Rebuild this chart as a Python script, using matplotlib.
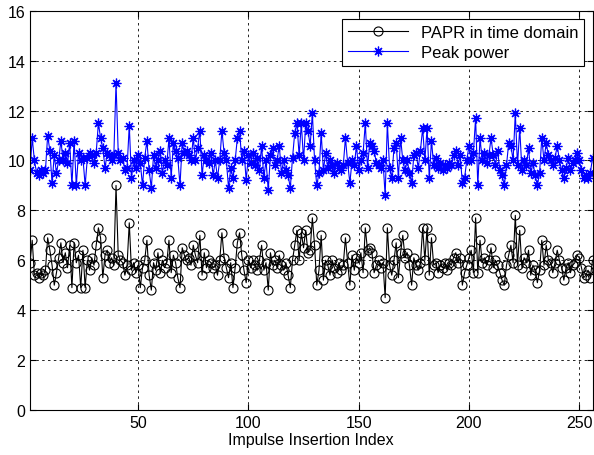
import numpy as np
from matplotlib import pyplot as plt

plt.rcParams['font.family'] = ['Liberation Sans', 'DejaVu Sans']

# impulse insertion index 1..256
index = np.arange(1, 257)

papr = [
    # 1-42
    5.9, 6.8, 5.4, 5.5, 5.3, 5.5, 5.4, 5.6, 6.9, 6.4,
    5.8, 5.0, 5.5, 6.1, 6.7, 5.9, 6.3, 5.7, 6.6, 4.9,
    6.7, 5.9, 6.2, 4.9, 6.4, 4.9, 6.0, 5.6, 6.1, 5.8,
    6.6, 7.3, 6.9, 5.3, 6.2, 6.4, 5.9, 6.1, 5.8, 9.0,
    6.2, 6.0,
    # 43-85
    5.9, 5.4, 5.8, 7.5, 5.6, 5.9, 5.5, 5.8, 4.9, 5.7,
    6.0, 6.8, 5.4, 4.8, 5.9, 5.6, 6.3, 5.5, 6.0, 5.7,
    5.9, 6.8, 5.5, 6.2, 5.9, 5.3, 4.9, 6.5, 6.2, 6.0,
    6.1, 5.8, 6.6, 6.2, 5.9, 7.0, 5.4, 6.3, 5.7, 6.0,
    5.9, 5.7, 5.8,
    # 86-128
    5.4, 6.0, 7.1, 6.1, 5.7, 5.3, 5.9, 4.9, 5.7, 6.7,
    7.1, 6.2, 5.6, 5.1, 6.0, 5.7, 6.0, 5.8, 5.6, 6.0,
    6.6, 5.6, 5.9, 4.8, 6.3, 5.8, 6.0, 5.7, 6.2, 5.8,
    5.6, 5.9, 5.4, 4.9, 6.0, 6.6, 7.2, 6.0, 7.1, 6.5,
    7.2, 6.3, 6.4,
    # 129-171
    7.7, 6.6, 5.0, 5.6, 7.0, 5.2, 6.0, 5.8, 5.4, 6.0,
    5.7, 5.5, 5.9, 5.6, 5.8, 6.9, 5.9, 5.0, 6.2, 5.6,
    6.1, 5.9, 6.3, 5.5, 7.3, 6.4, 6.5, 6.3, 5.5, 5.8,
    6.0, 5.7, 5.9, 4.5, 7.3, 5.8, 5.4, 6.0, 6.7, 5.3,
    6.3, 7.0, 6.1,
    # 172-214
    6.3, 5.8, 5.0, 6.1, 5.8, 5.6, 5.9, 7.3, 6.0, 7.3,
    5.4, 6.9, 5.8, 5.9, 5.5, 5.8, 5.7, 5.9, 5.6, 5.9,
    5.8, 6.1, 6.3, 5.9, 6.1, 5.0, 5.5, 5.8, 6.1, 6.4,
    5.5, 7.7, 5.5, 6.8, 5.9, 6.1, 5.8, 6.0, 6.5, 5.7,
    6.0, 5.8, 5.5,
    # 215-256
    5.2, 5.0, 5.8, 6.2, 6.6, 5.9, 7.8, 5.8, 7.2, 5.7,
    6.1, 5.9, 6.4, 5.4, 5.8, 5.6, 5.1, 5.6, 6.8, 5.8,
    6.6, 6.0, 5.9, 5.5, 5.9, 6.4, 6.0, 5.7, 5.2, 5.7,
    5.9, 5.5, 5.8, 5.9, 6.2, 6.1, 5.7, 5.3, 5.4, 5.6,
    5.3, 6.0,
]

peak = [
    # 1-42
    9.6, 10.9, 10.0, 9.5, 9.4, 9.6, 9.5, 9.6, 11.0, 10.4,
    9.1, 10.2, 9.5, 10.0, 10.8, 10.0, 10.3, 9.9, 10.7, 9.0,
    10.8, 9.0, 10.3, 10.0, 10.1, 9.0, 10.1, 10.3, 10.2, 9.9,
    10.3, 11.5, 10.9, 10.5, 9.7, 10.3, 10.2, 10.0, 10.2, 13.1,
    10.3, 10.0,
    # 43-85
    10.1, 9.6, 9.7, 11.4, 9.3, 10.0, 9.7, 10.2, 9.9, 9.0,
    10.1, 10.8, 9.6, 8.9, 10.2, 9.7, 10.0, 10.4, 9.5, 10.0,
    9.8, 10.9, 9.3, 10.7, 10.4, 10.1, 9.0, 10.7, 10.3, 10.4,
    10.2, 10.0, 10.9, 10.0, 10.5, 11.2, 9.4, 10.2, 10.0, 9.9,
    10.3, 9.4, 10.0,
    # 86-128
    9.3, 10.0, 11.2, 10.3, 10.0, 8.9, 9.7, 9.3, 10.0, 10.9,
    11.2, 10.0, 10.4, 9.2, 10.2, 9.9, 10.3, 9.8, 10.1, 9.6,
    10.6, 9.3, 10.0, 8.8, 10.2, 10.5, 9.8, 10.0, 10.6, 9.5,
    10.0, 9.6, 9.4, 8.9, 10.1, 11.1, 11.5, 10.2, 11.5, 10.0,
    11.5, 11.2, 10.6,
    # 129-171
    11.9, 10.0, 9.0, 9.5, 11.1, 9.6, 10.3, 9.7, 10.0, 9.8,
    9.5, 9.9, 9.7, 9.6, 9.8, 10.9, 9.9, 9.1, 10.0, 9.8,
    10.6, 9.6, 10.0, 10.3, 11.5, 9.7, 10.7, 10.6, 10.4, 9.9,
    9.8, 9.7, 10.0, 8.6, 11.5, 9.7, 9.3, 10.5, 10.7, 9.3,
    10.9, 10.0, 9.6,
    # 172-214
    10.0, 9.5, 9.1, 10.2, 10.3, 9.7, 10.4, 11.3, 10.0, 11.3,
    9.3, 10.8, 9.8, 10.1, 9.7, 9.9, 9.6, 9.8, 9.7, 9.9,
    9.8, 10.2, 10.4, 9.8, 10.2, 9.1, 9.3, 10.0, 10.6, 10.0,
    10.3, 11.7, 9.0, 10.9, 10.0, 10.3, 9.9, 10.2, 10.9, 10.2,
    9.8, 10.4, 9.6,
    # 215-256
    9.4, 9.0, 9.8, 10.7, 10.6, 10.0, 11.9, 9.8, 11.3, 9.6,
    10.0, 9.8, 10.5, 9.5, 9.9, 9.4, 9.0, 9.5, 10.9, 10.0,
    10.7, 10.2, 10.0, 9.8, 10.1, 10.6, 10.0, 9.6, 9.3, 9.7,
    10.1, 9.6, 9.9, 10.0, 10.3, 10.0, 9.6, 9.3, 9.4, 9.3,
    9.5, 10.1,
]

fig = plt.figure(figsize=(5.94, 4.56), dpi=100)
ax = fig.add_axes([0.0505, 0.099, 0.947, 0.875])

ax.plot(index, papr, color='black', linewidth=0.8, marker='o',
        markersize=6.5, markerfacecolor='none', markeredgewidth=0.8,
        label='PAPR in time domain')
# matlab style asterisk marker (8 spokes)
ax.plot(index, peak, color='blue', linewidth=0.8, marker=(8, 2, 0),
        markersize=7, markeredgewidth=0.9, label='Peak power')

ax.set_xlim(1, 256)
ax.set_ylim(0, 16)
ax.set_xticks([50, 100, 150, 200, 250])
ax.set_yticks(np.arange(0, 17, 2))
ax.grid(True, color='black', linestyle=(0, (3, 4)), linewidth=0.6)
ax.tick_params(direction='in', top=True, right=True, labelsize=11.5, length=4)
for s in ax.spines.values():
    s.set_linewidth(0.8)

ax.set_xlabel('Impulse Insertion Index', fontsize=11.5, labelpad=2)

leg = ax.legend(loc='upper right', fontsize=12, fancybox=False,
                edgecolor='black', framealpha=1, handlelength=3.6,
                borderaxespad=0.5, labelspacing=0.3, borderpad=0.35)
leg.get_frame().set_linewidth(0.8)

fig.savefig('out.png', dpi=100)
